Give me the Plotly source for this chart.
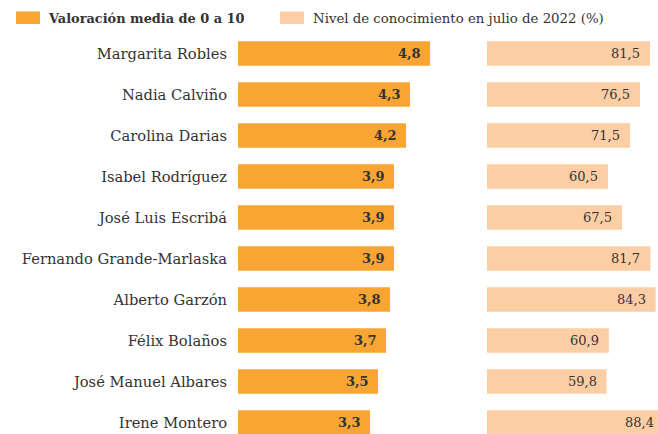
import plotly.graph_objects as go

# ranking de ministros: valoración media (0-10) y nivel de conocimiento (%)
NAMES = [
    "Margarita Robles",
    "Nadia Calviño",
    "Carolina Darias",
    "Isabel Rodríguez",
    "José Luis Escribá",
    "Fernando Grande-Marlaska",
    "Alberto Garzón",
    "Félix Bolaños",
    "José Manuel Albares",
    "Irene Montero",
]
VALORACION = [4.8, 4.3, 4.2, 3.9, 3.9, 3.9, 3.8, 3.7, 3.5, 3.3]
CONOCIMIENTO = [81.5, 76.5, 71.5, 60.5, 67.5, 81.7, 84.3, 60.9, 59.8, 88.4]

LEGEND_LEFT = "Valoración media de 0 a 10"
LEGEND_RIGHT = "Nivel de conocimiento en julio de 2022 (%)"

# positions are window pixels; the right panel runs past the window edge
# (the longest bar is cut off in the original too)
W, H = 666, 434
TOP = 33
ORANGE = "#F9A533"
PEACH = "#FBCEA6"
TEXT = "#333333"
FONT = "DejaVu Serif"


def es(v):
    return f"{v:.1f}".replace(".", ",")


def px_x(p):
    return p / W


def px_y(p):
    return (H - p) / (H - TOP)


fig = go.Figure()
fig.add_trace(go.Bar(
    x=VALORACION, y=NAMES, orientation="h",
    marker=dict(color=ORANGE, line=dict(width=0)),
    width=0.6, xaxis="x", yaxis="y", hoverinfo="skip",
))
fig.add_trace(go.Bar(
    x=CONOCIMIENTO, y=NAMES, orientation="h",
    marker=dict(color=PEACH, line=dict(width=0)),
    width=0.6, xaxis="x2", yaxis="y2", hoverinfo="skip",
))

# value labels sit inside the bar end, a few pixels in
for name, v in zip(NAMES, VALORACION):
    fig.add_annotation(x=v, y=name, xref="x", yref="y", text=f"<b>{es(v)}</b>",
                       xanchor="right", yanchor="middle", xshift=-7, showarrow=False,
                       font=dict(family=FONT, size=13, color=TEXT))
for name, v in zip(NAMES, CONOCIMIENTO):
    fig.add_annotation(x=v, y=name, xref="x2", yref="y2", text=es(v),
                       xanchor="right", yanchor="middle", xshift=-8, showarrow=False,
                       font=dict(family=FONT, size=13, color=TEXT))

yrange = [-0.5 + (H - TOP) / 41.0, -0.5]

fig.update_layout(
    width=W, height=H,
    margin=dict(l=0, r=0, t=TOP, b=0, pad=0),
    paper_bgcolor="white", plot_bgcolor="white",
    showlegend=False,
    font=dict(family=FONT, size=15, color=TEXT),
    xaxis=dict(domain=[px_x(238), px_x(438)], range=[0, 5], visible=False, fixedrange=True),
    xaxis2=dict(domain=[px_x(487), 1.0], range=[0, (W - 487) / 2.0],
                visible=False, fixedrange=True),
    yaxis=dict(anchor="x", type="category", range=yrange, showgrid=False, zeroline=False,
               showline=False, ticks="", ticklabelstandoff=10,
               tickfont=dict(family=FONT, size=14.7, color=TEXT), automargin=False),
    yaxis2=dict(anchor="x2", matches="y", showticklabels=False, showgrid=False,
                zeroline=False, showline=False),
)

# legend drawn as swatches + text above the panels
for x0, x1, color in [(16, 40, ORANGE), (280, 304, PEACH)]:
    fig.add_shape(type="rect", xref="paper", yref="paper",
                  x0=px_x(x0), x1=px_x(x1), y0=px_y(24), y1=px_y(11.5),
                  fillcolor=color, line=dict(width=0))
fig.add_annotation(text=f"<b>{LEGEND_LEFT}</b>", xref="paper", yref="paper",
                   x=px_x(46), y=px_y(18), xanchor="left", yanchor="middle",
                   showarrow=False, font=dict(family=FONT, size=12.9, color=TEXT))
fig.add_annotation(text=LEGEND_RIGHT, xref="paper", yref="paper",
                   x=px_x(311), y=px_y(18), xanchor="left", yanchor="middle",
                   showarrow=False, font=dict(family=FONT, size=13.3, color=TEXT))

# drop the default body margin so the figure sits at the window corner
fig.write_html(
    "out.html",
    config={"displayModeBar": False},
    post_script="document.body.style.margin='0';document.body.style.overflow='hidden';",
)
